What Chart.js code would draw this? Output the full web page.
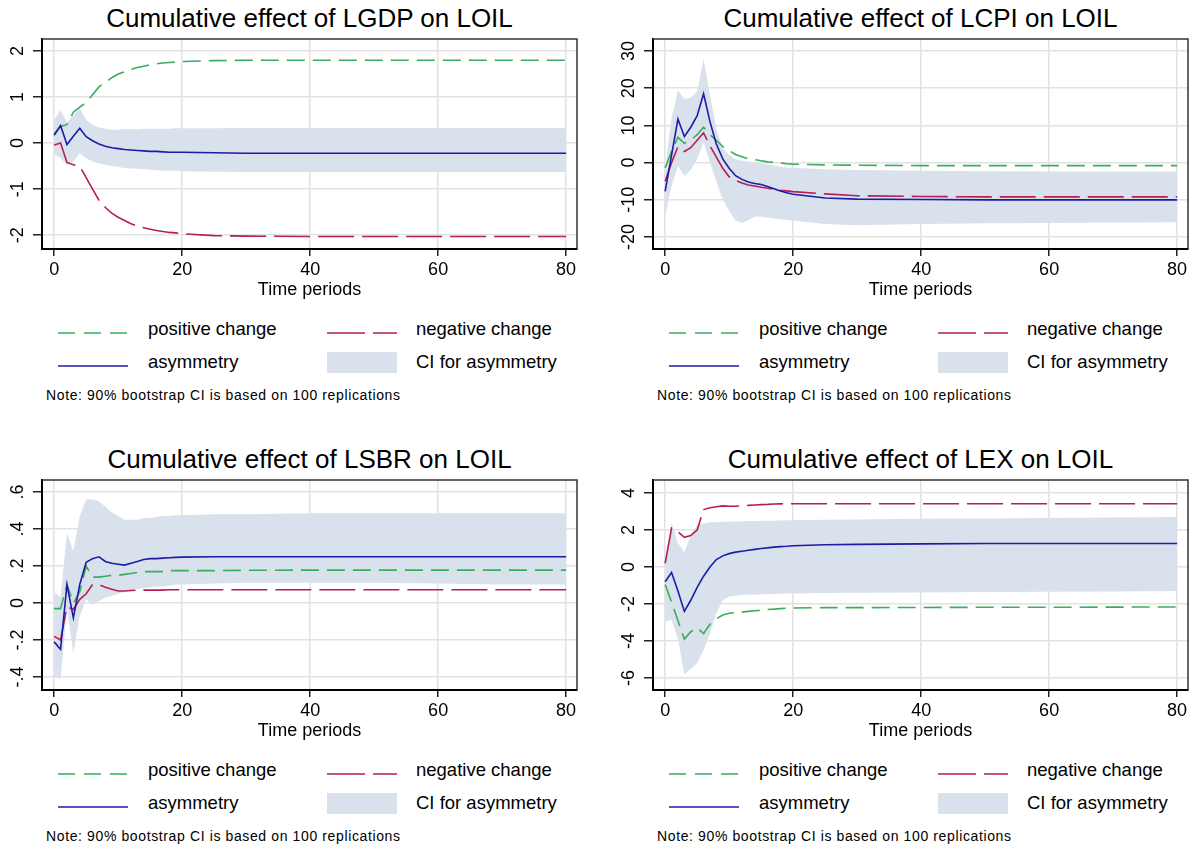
<!DOCTYPE html>
<html>
<head>
<meta charset="utf-8">
<script src="https://cdn.jsdelivr.net/npm/chart.js@4.4.1/dist/chart.umd.min.js"></script>
<style>
  body { margin: 0; background: #fff; width: 1193px; height: 847px; position: relative; overflow: hidden;
         font-family: 'Liberation Sans', Arial, sans-serif; color: #000; }
  .panel { position: absolute; width: 582px; height: 420px; }
  .panel canvas { position: absolute; left: 0; top: 0; }
  .ttl { position: absolute; left: 42px; width: 535px; top: 3px; line-height: 30px; font-size: 26px; text-align: center; white-space: nowrap; }
  .lg-txt { position: absolute; font-size: 18.5px; line-height: 22px; white-space: nowrap; }
  .lg-line { position: absolute; }
  .lg-band { position: absolute; background: #d9e1ed; }
  .note { position: absolute; left: 46px; font-size: 14px; line-height: 16px; letter-spacing: 0.62px; white-space: nowrap; }
</style>
</head>
<body>
<script>
// Time periods (denser where the curves move)
const periods = [0,1,2,3,4,5,6,7,8,9,10,11,12,13,14,15,16,17,18,19,20,25,30,40,50,60,70,80];
const xTicks = [0, 20, 40, 60, 80];

// Panel titles
const titles = [
    'Cumulative effect of LGDP on LOIL',
    'Cumulative effect of LCPI on LOIL',
    'Cumulative effect of LSBR on LOIL',
    'Cumulative effect of LEX on LOIL'
];

// LGDP
const lgdpPos  = [0.2,0.36,0.4,0.67,0.78,0.88,1.05,1.22,1.32,1.42,1.5,1.55,1.6,1.64,1.67,1.7,1.72,1.74,1.75,1.76,1.77,1.79,1.8,1.8,1.8,1.8,1.8,1.8];
const lgdpNeg  = [-0.04,0.0,-0.42,-0.47,-0.5,-0.75,-1.0,-1.24,-1.4,-1.52,-1.61,-1.68,-1.75,-1.8,-1.84,-1.87,-1.9,-1.92,-1.94,-1.95,-1.97,-2.01,-2.02,-2.03,-2.03,-2.03,-2.03,-2.03];
const lgdpAsym = [0.17,0.38,-0.03,0.15,0.32,0.14,0.05,-0.02,-0.07,-0.1,-0.12,-0.14,-0.15,-0.16,-0.17,-0.18,-0.18,-0.19,-0.2,-0.2,-0.2,-0.21,-0.22,-0.22,-0.22,-0.22,-0.22,-0.22];
const lgdpCiUp = [0.5,0.72,0.45,0.6,0.76,0.5,0.4,0.34,0.31,0.29,0.29,0.31,0.3,0.3,0.31,0.31,0.31,0.31,0.31,0.32,0.32,0.32,0.33,0.33,0.33,0.33,0.33,0.33];
const lgdpCiLo = [-0.25,-0.32,-0.48,-0.4,-0.22,-0.33,-0.4,-0.44,-0.47,-0.5,-0.52,-0.54,-0.55,-0.56,-0.57,-0.58,-0.59,-0.6,-0.6,-0.6,-0.61,-0.62,-0.63,-0.63,-0.63,-0.63,-0.63,-0.63];
const lgdpTicks = [-2, -1, 0, 1, 2];

// LCPI
const lcpiPos  = [-1.4,3,6.8,5.2,6,7.5,9.5,7.5,6,4.3,3.2,2.2,1.6,1.0,0.8,0.5,0.2,0.1,-0.1,-0.3,-0.4,-0.6,-0.7,-0.8,-0.8,-0.8,-0.8,-0.8];
const lcpiNeg  = [-5,0,4.3,3,4,6,8,4.5,1.5,-1.5,-3.8,-4.8,-5.5,-6,-6.3,-6.6,-6.9,-7.1,-7.4,-7.6,-7.8,-8.4,-8.9,-9.1,-9.2,-9.2,-9.2,-9.2];
const lcpiAsym = [-7.7,2,11.7,7,9.5,12.6,18.5,11,5,1,-1.5,-3.5,-4.5,-5.2,-5.6,-5.9,-6.4,-7,-7.6,-8.1,-8.5,-9.5,-9.8,-9.9,-10,-10,-10,-10];
const lcpiCiUp = [-1.8,12,19.4,17.1,17.5,19,28,18,9,4,2,0.9,0.5,0.3,0,-0.3,-0.5,-0.8,-1.1,-1.3,-1.4,-1.8,-2,-2.2,-2.3,-2.4,-2.4,-2.4];
const lcpiCiLo = [-14.4,-6.3,-0.9,-3.6,-2,1,5.4,0,-5,-10,-13,-15.6,-16.2,-15.5,-14.5,-14.5,-14.8,-15,-15.2,-15.4,-15.6,-16.5,-16.8,-16.5,-16.3,-16.2,-16.1,-16];
const lcpiTicks = [-20, -10, 0, 10, 20, 30];

// LSBR
const lsbrPos  = [-0.03,-0.03,0.1,0.0,0.06,0.2,0.14,0.14,0.145,0.15,0.15,0.155,0.16,0.165,0.17,0.17,0.17,0.17,0.175,0.175,0.175,0.175,0.177,0.178,0.178,0.178,0.178,0.178];
const lsbrNeg  = [-0.18,-0.2,-0.02,-0.035,0.02,0.05,0.1,0.1,0.085,0.075,0.065,0.065,0.068,0.07,0.07,0.07,0.07,0.07,0.072,0.072,0.072,0.072,0.072,0.072,0.072,0.072,0.072,0.072];
const lsbrAsym = [-0.21,-0.25,0.1,-0.08,0.1,0.22,0.24,0.25,0.225,0.215,0.21,0.205,0.215,0.225,0.235,0.24,0.24,0.243,0.245,0.247,0.248,0.25,0.25,0.25,0.25,0.25,0.25,0.25];
const lsbrCiUp = [0.06,0.03,0.38,0.28,0.47,0.56,0.56,0.55,0.52,0.49,0.47,0.45,0.45,0.45,0.46,0.46,0.465,0.47,0.47,0.475,0.475,0.48,0.48,0.485,0.485,0.485,0.485,0.485];
const lsbrCiLo = [-0.4,-0.41,-0.03,-0.27,-0.07,0.02,-0.01,0.01,0.03,0.04,0.05,0.06,0.07,0.075,0.08,0.085,0.09,0.09,0.095,0.1,0.1,0.105,0.11,0.11,0.11,0.105,0.1,0.1];
const lsbrTicks = [-0.4, -0.2, 0, 0.2, 0.4, 0.6];

// LEX
const lexPos  = [-0.95,-1.9,-2.9,-3.9,-3.5,-3.3,-3.6,-3.1,-2.8,-2.6,-2.5,-2.47,-2.44,-2.4,-2.37,-2.34,-2.3,-2.28,-2.25,-2.23,-2.22,-2.2,-2.2,-2.19,-2.18,-2.18,-2.17,-2.16];
const lexNeg  = [0.2,2.1,1.9,1.6,1.7,2.0,3.1,3.2,3.25,3.3,3.28,3.28,3.3,3.33,3.35,3.37,3.38,3.4,3.41,3.42,3.42,3.42,3.42,3.42,3.42,3.42,3.42,3.42];
const lexAsym = [-0.8,-0.3,-1.3,-2.4,-1.8,-1.1,-0.5,0.0,0.4,0.6,0.72,0.8,0.85,0.9,0.95,1.0,1.03,1.07,1.1,1.12,1.15,1.2,1.22,1.25,1.27,1.27,1.27,1.27];
const lexCiUp = [0.0,2.4,1.3,0.8,1.7,2.3,2.35,2.4,2.42,2.44,2.45,2.46,2.47,2.48,2.48,2.49,2.5,2.5,2.51,2.52,2.52,2.55,2.57,2.6,2.62,2.65,2.67,2.7];
const lexCiLo = [-2.95,-2.85,-3.9,-5.8,-5.5,-5.2,-4.5,-3.6,-2.5,-1.8,-1.6,-1.55,-1.52,-1.5,-1.5,-1.48,-1.47,-1.46,-1.45,-1.44,-1.43,-1.41,-1.4,-1.38,-1.36,-1.34,-1.32,-1.3];
const lexTicks = [-6, -4, -2, 0, 2, 4];

// Colours
const GREEN = '#3aad5c';
const RED = '#b51f52';
const BLUE = '#1c1ca6';
const BAND = '#d9e1ed';
const FONT = "'Liberation Sans', Arial, sans-serif";

// Panel layout: screen offset, y range and y label padding
const panels = [
    { left: 0,   top: 0,   pos: lgdpPos, neg: lgdpNeg, asym: lgdpAsym, up: lgdpCiUp, lo: lgdpCiLo, ticks: lgdpTicks, min: -2.3,  max: 2.26,  pad: 7 },
    { left: 611, top: 0,   pos: lcpiPos, neg: lcpiNeg, asym: lcpiAsym, up: lcpiCiUp, lo: lcpiCiLo, ticks: lcpiTicks, min: -23.2, max: 33.2,  pad: 2 },
    { left: 0,   top: 441, pos: lsbrPos, neg: lsbrNeg, asym: lsbrAsym, up: lsbrCiUp, lo: lsbrCiLo, ticks: lsbrTicks, min: -0.47, max: 0.665, pad: 4 },
    { left: 611, top: 441, pos: lexPos,  neg: lexNeg,  asym: lexAsym,  up: lexCiUp,  lo: lexCiLo,  ticks: lexTicks,  min: -6.65, max: 4.7,   pad: 7 }
];

// Stata style: drop the leading zero of decimals (.2, -.4)
function stataLabel(v) {
    if (v === 0) return '0';
    return String(Math.round(v * 10) / 10).replace('0.', '.');
}

// Draw the top and right edges of the plot frame
const frameBox = {
    id: 'frameBox',
    afterDraw(chart) {
        const { ctx, chartArea: a } = chart;
        ctx.save();
        ctx.strokeStyle = '#333';
        ctx.lineWidth = 1.5;
        ctx.beginPath();
        ctx.moveTo(a.left, a.top);
        ctx.lineTo(a.right, a.top);
        ctx.lineTo(a.right, a.bottom);
        ctx.stroke();
        ctx.restore();
    }
};

function toPoints(ys) {
    return periods.map((x, i) => ({ x: x, y: ys[i] }));
}

function dashSvg(color, dash, width) {
    return `<svg width="70" height="10"><line x1="0" y1="5" x2="70" y2="5" stroke="${color}" stroke-width="${width}" ${dash ? `stroke-dasharray="${dash}"` : ''}/></svg>`;
}

function buildLegend(el) {
    el.insertAdjacentHTML('beforeend', `
        <div class="lg-line" style="left:58px;top:324px">${dashSvg(GREEN, '17,9', 1.6)}</div>
        <div class="lg-txt" style="left:148px;top:318px">positive change</div>
        <div class="lg-line" style="left:327px;top:324px">${dashSvg(RED, '38,8', 1.6)}</div>
        <div class="lg-txt" style="left:416px;top:318px">negative change</div>
        <div class="lg-line" style="left:58px;top:357px">${dashSvg(BLUE, null, 1.6)}</div>
        <div class="lg-txt" style="left:148px;top:351px">asymmetry</div>
        <div class="lg-band" style="left:327px;top:352px;width:70px;height:21px"></div>
        <div class="lg-txt" style="left:416px;top:351px">CI for asymmetry</div>
        <div class="note" style="top:387px">Note: 90% bootstrap CI is based on 100 replications</div>
    `);
}

function makePanel(p, idx) {
    const box = document.createElement('div');
    box.className = 'panel';
    box.style.left = p.left + 'px';
    box.style.top = p.top + 'px';
    box.innerHTML = `<div class="ttl">${titles[idx]}</div><canvas width="582" height="301"></canvas>`;
    document.body.appendChild(box);
    buildLegend(box);

    const ctx = box.querySelector('canvas').getContext('2d');
    const tickFont = { family: FONT, size: 18 };

    new Chart(ctx, {
        type: 'line',
        data: {
            datasets: [
                { label: 'asymmetry', data: toPoints(p.asym), borderColor: BLUE, borderWidth: 1.6, fill: false },
                { label: 'negative change', data: toPoints(p.neg), borderColor: RED, borderWidth: 1.6, borderDash: [36, 8], fill: false },
                { label: 'positive change', data: toPoints(p.pos), borderColor: GREEN, borderWidth: 1.6, borderDash: [18, 8], fill: false },
                { label: 'CI upper', data: toPoints(p.up), borderWidth: 0, borderColor: 'rgba(0,0,0,0)', backgroundColor: BAND, fill: '+1' },
                { label: 'CI lower', data: toPoints(p.lo), borderWidth: 0, borderColor: 'rgba(0,0,0,0)', fill: false }
            ]
        },
        options: {
            responsive: false,
            animation: false,
            devicePixelRatio: 1,
            layout: { padding: { top: 39, right: 5, left: 0, bottom: 0 } },
            elements: { point: { radius: 0 }, line: { tension: 0 } },
            plugins: { legend: { display: false }, tooltip: { enabled: false } },
            scales: {
                x: {
                    type: 'linear',
                    min: -1.9,
                    max: 81.7,
                    afterBuildTicks: s => { s.ticks = xTicks.map(v => ({ value: v })); },
                    afterFit: s => { s.height = 52; },
                    grid: { color: '#e2e2e2', lineWidth: 1.5, tickColor: '#222', tickWidth: 1.5, tickLength: 7 },
                    border: { color: '#000', width: 2 },
                    ticks: { color: '#000', font: tickFont, padding: 3, maxRotation: 0 },
                    title: { display: true, text: 'Time periods', color: '#000', font: tickFont, padding: 0 }
                },
                y: {
                    type: 'linear',
                    min: p.min,
                    max: p.max,
                    afterBuildTicks: s => { s.ticks = p.ticks.map(v => ({ value: v })); },
                    afterFit: s => { s.width = 42; },
                    grid: { color: '#e2e2e2', lineWidth: 1.5, tickColor: '#222', tickWidth: 1.5, tickLength: 9 },
                    border: { color: '#000', width: 2 },
                    ticks: {
                        color: '#000', font: tickFont, padding: p.pad,
                        minRotation: 90, maxRotation: 90, crossAlign: 'center',
                        callback: v => stataLabel(v)
                    }
                }
            }
        },
        plugins: [frameBox]
    });
}

panels.forEach(makePanel);
</script>
</body>
</html>
